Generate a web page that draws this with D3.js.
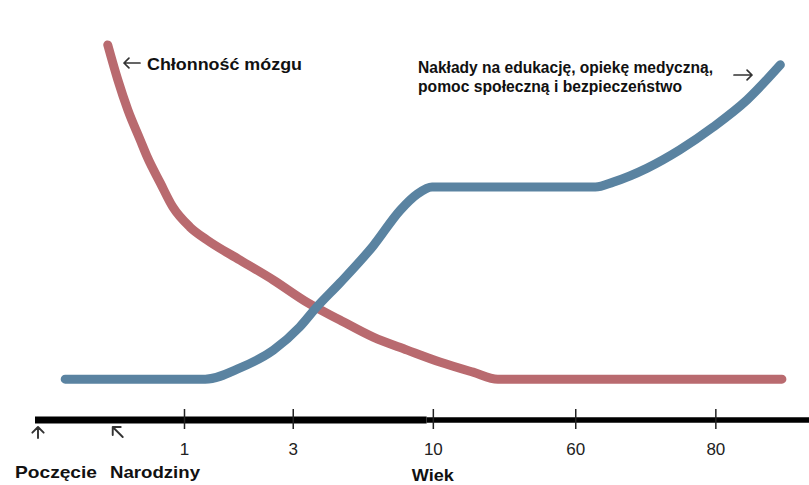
<!DOCTYPE html>
<html>
<head>
<meta charset="utf-8">
<script src="https://cdn.jsdelivr.net/npm/d3@7"></script>
<style>
  html, body { margin: 0; padding: 0; background: #ffffff; }
  svg { display: block; }
</style>
</head>
<body>
<svg id="chart" width="809" height="485"></svg>
<script>
// ---- Data (abstract timeline units 0..100, level units 0..100) ----
const brainX = [9.4, 10.7, 12.0, 13.6, 14.5, 16.2, 17.8, 20.0, 22.2, 26.5, 30.8, 35.1, 39.4, 43.7, 48.1, 52.3, 56.6, 59.8, 96.5];
const brainY = [98.6, 88.6, 80.0, 71.4, 66.6, 59.1, 52.3, 46.6, 42.9, 37.1, 31.4, 25.1, 20.0, 15.1, 11.4, 8.0, 5.1, 3.1, 3.1];

const spendX = [3.9, 22.0, 26.5, 30.8, 34.2, 36.4, 39.4, 43.7, 47.2, 49.4, 51.3, 72.4, 74.7, 79.1, 83.3, 87.6, 92.0, 96.3];
const spendY = [3.1, 3.1, 6.3, 11.4, 18.0, 23.7, 30.6, 41.2, 51.4, 56.0, 58.0, 58.0, 59.4, 63.4, 68.6, 75.1, 82.9, 92.9];

const tickValues = [19.25, 33.3, 51.4, 69.8, 87.9];
const tickLabels = ["1", "3", "10", "60", "80"];

const eventValues = [0, 10.3];
const eventLabels = ["Poczęcie", "Narodziny"];

const axisTitle = "Wiek";
const brainLabel = "Chłonność mózgu";
const spendLabel = ["Nakłady na edukację, opiekę medyczną,", "pomoc społeczną i bezpieczeństwo"];

// ---- Scales ----
const FONT = "'Liberation Sans', Arial, Helvetica, sans-serif";
const svg = d3.select("#chart");
const x = d3.scaleLinear().domain([0, 100]).range([35, 809]);
const y = d3.scaleLinear().domain([0, 100]).range([390, 40]);
const axisY = 420;

const line = d3.line().x(d => x(d[0])).y(d => y(d[1])).curve(d3.curveMonotoneX);

// ---- Curves ----
svg.append("path")
  .datum(d3.zip(brainX, brainY))
  .attr("d", line)
  .attr("fill", "none")
  .attr("stroke", "#b96a6f")
  .attr("stroke-width", 9)
  .attr("stroke-linecap", "round")
  .attr("stroke-linejoin", "round");

svg.append("path")
  .datum(d3.zip(spendX, spendY))
  .attr("d", line)
  .attr("fill", "none")
  .attr("stroke", "#5a83a1")
  .attr("stroke-width", 9)
  .attr("stroke-linecap", "round")
  .attr("stroke-linejoin", "round");

// ---- Axis line (thick) ----
svg.append("line")
  .attr("x1", x(0)).attr("x2", x(50.6))
  .attr("y1", axisY).attr("y2", axisY)
  .attr("stroke", "#000").attr("stroke-width", 7);
svg.append("line")
  .attr("x1", x(50.6)).attr("x2", 809)
  .attr("y1", axisY).attr("y2", axisY)
  .attr("stroke", "#000").attr("stroke-width", 5.5);

// ---- Ticks via d3 axis ----
const axis = d3.axisBottom(x)
  .tickValues(tickValues)
  .tickFormat((d, i) => tickLabels[i])
  .tickSizeInner(0)
  .tickSizeOuter(0)
  .tickPadding(23);
const gAxis = svg.append("g").attr("transform", `translate(0,${axisY})`).call(axis);
gAxis.attr("font-family", null).attr("font-size", null);
gAxis.select(".domain").remove();
gAxis.selectAll(".tick text")
  .style("font-family", FONT)
  .style("font-size", "17px")
  .attr("fill", "#222");
gAxis.selectAll(".tick").append("line")
  .attr("y1", -11).attr("y2", 9)
  .attr("stroke", "#222").attr("stroke-width", 1.5);

// ---- Helper for fitted bold labels ----
function label(tx, ty, t, w, size, anchor) {
  const el = svg.append("text")
    .attr("x", tx).attr("y", ty)
    .style("font-family", FONT)
    .style("font-size", size + "px")
    .style("font-weight", "bold")
    .attr("fill", "#111")
    .text(t);
  if (anchor) el.attr("text-anchor", anchor);
  if (w) el.attr("textLength", w).attr("lengthAdjust", "spacingAndGlyphs");
  return el;
}

// ---- Arrow helper ----
function arrow(x1, y1, x2, y2, head, sw) {
  const a = Math.atan2(y2 - y1, x2 - x1);
  const h = head || 6;
  const p = d3.path();
  p.moveTo(x1, y1); p.lineTo(x2, y2);
  p.moveTo(x2 - h * Math.cos(a - Math.PI / 4), y2 - h * Math.sin(a - Math.PI / 4));
  p.lineTo(x2, y2);
  p.lineTo(x2 - h * Math.cos(a + Math.PI / 4), y2 - h * Math.sin(a + Math.PI / 4));
  svg.append("path").attr("d", p.toString())
    .attr("fill", "none").attr("stroke", "#333").attr("stroke-width", sw || 1.6)
    .attr("stroke-linecap", "round").attr("stroke-linejoin", "round");
}

// ---- Event markers under the axis ----
arrow(x(eventValues[0]) + 3, 438, x(eventValues[0]) + 3, 427, 8, 1.9);
arrow(x(eventValues[1]) + 8, 437, x(eventValues[1]) - 2, 427, 8, 1.9);

label(15, 478, eventLabels[0], 82, 17);
label(110, 478, eventLabels[1], 90, 17);
label(x(51.4), 481, axisTitle, 42, 17, "middle");

// ---- Curve labels ----
arrow(140, 63, 124, 63, 7, 1.7);
label(147, 70, brainLabel, 155, 16.5);

label(418, 73, spendLabel[0], 295, 16.5);
label(418, 92, spendLabel[1], 264, 16.5);
arrow(734, 75, 752, 75, 7, 1.7);
</script>
</body>
</html>
